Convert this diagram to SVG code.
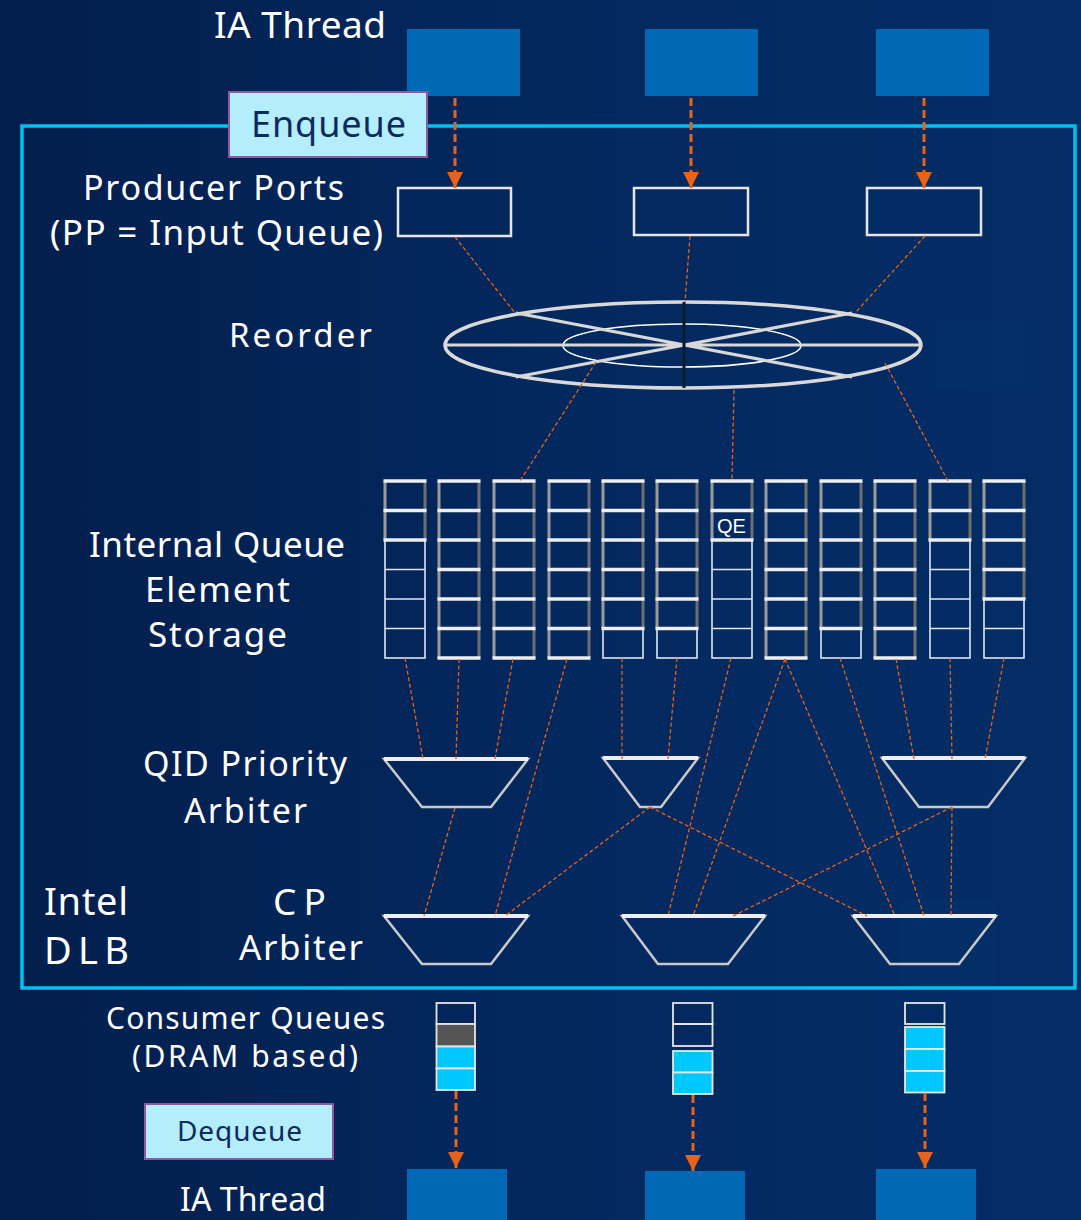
<svg xmlns="http://www.w3.org/2000/svg" xmlns:xlink="http://www.w3.org/1999/xlink" width="1081" height="1220" viewBox="0 0 1081 1220">
  <defs>
    <linearGradient id="bg" x1="0" y1="0" x2="1" y2="0">
      <stop offset="0" stop-color="#021e4c"/>
      <stop offset="0.5" stop-color="#03285e"/>
      <stop offset="1" stop-color="#042d66"/>
    </linearGradient>
    <marker id="arr" viewBox="0 0 16 16" markerWidth="16" markerHeight="16" refX="16" refY="8" orient="auto" markerUnits="userSpaceOnUse">
      <path d="M0,0 L16,8 L0,16 Z" fill="#e8621a"/>
    </marker>
    <!-- queue column templates: n occupied slots (3D look) over empty slots -->
    <g id="q6">
      <line class="sl" x1="0" y1="0" x2="0" y2="177"/><line class="sr" x1="40" y1="0" x2="40" y2="177"/>
      <path class="rt" d="M-1.5,0H41.5M-1.5,29.5H41.5M-1.5,59H41.5M-1.5,88.5H41.5M-1.5,118H41.5M-1.5,147.5H41.5M-1.5,177H41.5"/>
    </g>
    <g id="q5">
      <rect class="em" x="0" y="147.5" width="40" height="29.5"/>
      <line class="sl" x1="0" y1="0" x2="0" y2="147.5"/><line class="sr" x1="40" y1="0" x2="40" y2="147.5"/>
      <path class="rt" d="M-1.5,0H41.5M-1.5,29.5H41.5M-1.5,59H41.5M-1.5,88.5H41.5M-1.5,118H41.5M-1.5,147.5H41.5"/>
    </g>
    <g id="q4">
      <rect class="em" x="0" y="118" width="40" height="59"/>
      <path class="em" d="M0,147.5H40"/>
      <line class="sl" x1="0" y1="0" x2="0" y2="118"/><line class="sr" x1="40" y1="0" x2="40" y2="118"/>
      <path class="rt" d="M-1.5,0H41.5M-1.5,29.5H41.5M-1.5,59H41.5M-1.5,88.5H41.5M-1.5,118H41.5"/>
    </g>
    <g id="q2">
      <rect class="em" x="0" y="59" width="40" height="118"/>
      <path class="em" d="M0,88.5H40M0,118H40M0,147.5H40"/>
      <line class="sl" x1="0" y1="0" x2="0" y2="59"/><line class="sr" x1="40" y1="0" x2="40" y2="59"/>
      <path class="rt" d="M-1.5,0H41.5M-1.5,29.5H41.5M-1.5,59H41.5"/>
    </g>
  </defs>
  <style>
    .lbl { font-family: "Noto Sans", "DejaVu Sans", sans-serif; fill: #ffffff; text-anchor: middle; }
    .tag { font-family: "Noto Sans", "DejaVu Sans", sans-serif; fill: #0d2a5e; text-anchor: middle; }
    .thread { fill: #0068b5; }
    .tagbox { fill: #b4edfc; stroke: #8c5aa5; stroke-width: 2; }
    .pp { fill: none; stroke: #e6e6e6; stroke-width: 2.5; }
    .sl { stroke: #9a9a9a; stroke-width: 3; }
    .sr { stroke: #6e6e6e; stroke-width: 3; }
    .rt { stroke: #eeeeee; stroke-width: 3.5; fill: none; }
    .em { fill: none; stroke: #dfe6f2; stroke-width: 1.6; }
    .arb { fill: none; stroke: #c9c9c9; stroke-width: 2.5; stroke-linejoin: miter; }
    .arbtop { stroke: #eeeeee; stroke-width: 4; }
    .wire { fill: none; stroke: #e8621a; stroke-width: 1.3; stroke-dasharray: 4 2.5; }
    .feed { fill: none; stroke: #e8621a; stroke-width: 3; stroke-dasharray: 8 4; marker-end: url(#arr); }
    .cell { stroke: #e6e6e6; stroke-width: 1.8; }
  </style>

  <!-- background -->
  <rect x="0" y="0" width="1081" height="1220" fill="url(#bg)"/>
  <rect x="935" y="320" width="95" height="70" fill="#063470" opacity="0.3"/>
  <rect x="900" y="900" width="95" height="90" fill="#06346e" opacity="0.3"/>

  <!-- Intel DLB frame -->
  <rect id="dlb-frame" x="22" y="126" width="1053" height="862" fill="none" stroke="#00c0f2" stroke-width="3.5"/>

  <!-- labels -->
  <g id="labels">
    <text class="lbl" x="300" y="38" font-size="37" textLength="172" lengthAdjust="spacing">IA Thread</text>
    <text class="lbl" x="213.5" y="200" font-size="34" textLength="261" lengthAdjust="spacing">Producer Ports</text>
    <text class="lbl" x="216.5" y="245" font-size="35" textLength="333" lengthAdjust="spacing">(PP = Input Queue)</text>
    <text class="lbl" x="300.5" y="347" font-size="33" textLength="143" lengthAdjust="spacing">Reorder</text>
    <text class="lbl" x="217" y="557" font-size="35" textLength="256" lengthAdjust="spacing">Internal Queue</text>
    <text class="lbl" x="217.5" y="602" font-size="35" textLength="145" lengthAdjust="spacing">Element</text>
    <text class="lbl" x="217.5" y="647" font-size="35" textLength="139" lengthAdjust="spacing">Storage</text>
    <text class="lbl" x="245" y="776" font-size="34" textLength="204" lengthAdjust="spacing">QID Priority</text>
    <text class="lbl" x="245.5" y="823" font-size="34" textLength="123" lengthAdjust="spacing">Arbiter</text>
    <text class="lbl" x="299.5" y="915" font-size="37" textLength="53" lengthAdjust="spacing">CP</text>
    <text class="lbl" x="301" y="960" font-size="35" textLength="124" lengthAdjust="spacing">Arbiter</text>
    <text class="lbl" x="44" y="915" font-size="38" textLength="84" lengthAdjust="spacing" style="text-anchor:start">Intel</text>
    <text class="lbl" x="44" y="964" font-size="38" textLength="85" lengthAdjust="spacing" style="text-anchor:start">DLB</text>
    <text class="lbl" x="245.5" y="1029" font-size="30" textLength="279" lengthAdjust="spacing">Consumer Queues</text>
    <text class="lbl" x="245" y="1067" font-size="30" textLength="226" lengthAdjust="spacing">(DRAM based)</text>
    <text class="lbl" x="253" y="1211" font-size="32" textLength="146" lengthAdjust="spacing">IA Thread</text>
  </g>

  <!-- producer threads -->
  <g id="thread-in-1"><rect class="thread" x="407" y="29" width="113" height="67"/></g>
  <g id="thread-in-2"><rect class="thread" x="645" y="29" width="113" height="67"/></g>
  <g id="thread-in-3"><rect class="thread" x="876" y="29" width="113" height="67"/></g>

  <!-- enqueue tag -->
  <g id="enqueue">
    <rect class="tagbox" x="229" y="92" width="198" height="65"/>
    <text class="tag" x="328.5" y="137" font-size="36" textLength="155" lengthAdjust="spacing">Enqueue</text>
  </g>

  <!-- producer ports -->
  <g id="pp-1"><rect class="pp" x="398" y="188" width="113" height="48"/></g>
  <g id="pp-2"><rect class="pp" x="634" y="188" width="114" height="47"/></g>
  <g id="pp-3"><rect class="pp" x="867" y="188" width="114" height="47"/></g>

  <!-- reorder wheel -->
  <g id="reorder">
    <ellipse cx="683" cy="345" rx="238" ry="43" fill="none" stroke="#d9d9d9" stroke-width="3.5"/>
    <ellipse cx="682" cy="345.5" rx="119" ry="21.5" fill="none" stroke="#ffffff" stroke-width="1.6"/>
    <path d="M446,345H920M516,313L852,377M852,313L516,377" stroke="#d8d8d8" stroke-width="3.2" fill="none"/>
    <line x1="684" y1="302" x2="684" y2="388" stroke="#0b1a2c" stroke-width="3"/>
  </g>

  <!-- internal queue element storage -->
  <g id="col-1"><use xlink:href="#q2" x="385" y="481"/></g>
  <g id="col-2"><use xlink:href="#q6" x="439" y="481"/></g>
  <g id="col-3"><use xlink:href="#q6" x="494" y="481"/></g>
  <g id="col-4"><use xlink:href="#q6" x="549" y="481"/></g>
  <g id="col-5"><use xlink:href="#q5" x="603" y="481"/></g>
  <g id="col-6"><use xlink:href="#q5" x="657" y="481"/></g>
  <g id="col-7"><use xlink:href="#q2" x="712" y="481"/>
    <text x="731.5" y="533" font-family="Liberation Sans, Arial, sans-serif" font-size="20" fill="#ffffff" text-anchor="middle">QE</text>
  </g>
  <g id="col-8"><use xlink:href="#q6" x="766" y="481"/></g>
  <g id="col-9"><use xlink:href="#q5" x="821" y="481"/></g>
  <g id="col-10"><use xlink:href="#q6" x="875" y="481"/></g>
  <g id="col-11"><use xlink:href="#q2" x="930" y="481"/></g>
  <g id="col-12"><use xlink:href="#q4" x="984" y="481"/></g>

  <!-- QID priority arbiters -->
  <g id="qid-arb-1"><polygon class="arb" points="384,759 528,759 491,807 422,807"/><line class="arbtop" x1="384" y1="759" x2="528" y2="759"/></g>
  <g id="qid-arb-2"><polygon class="arb" points="603,758 698,758 661,807 640,807"/><line class="arbtop" x1="603" y1="758" x2="698" y2="758"/></g>
  <g id="qid-arb-3"><polygon class="arb" points="882,758 1025,758 988,807 919,807"/><line class="arbtop" x1="882" y1="758" x2="1025" y2="758"/></g>

  <!-- CP arbiters -->
  <g id="cp-arb-1"><polygon class="arb" points="384,916 528,916 491,964 422,964"/><line class="arbtop" x1="384" y1="916" x2="528" y2="916"/></g>
  <g id="cp-arb-2"><polygon class="arb" points="622,916 765,916 728,964 658,964"/><line class="arbtop" x1="622" y1="916" x2="765" y2="916"/></g>
  <g id="cp-arb-3"><polygon class="arb" points="853,916 996,916 959,964 890,964"/><line class="arbtop" x1="853" y1="916" x2="996" y2="916"/></g>

  <!-- consumer queues -->
  <g id="cq-1">
    <rect x="436.5" y="1003" width="38.5" height="21" fill="none" class="cell"/>
    <rect x="436.5" y="1024" width="38.5" height="22.5" fill="#555555" class="cell"/>
    <rect x="436.5" y="1046.5" width="38.5" height="22" fill="#00c7fd" class="cell"/>
    <rect x="436.5" y="1068.5" width="38.5" height="21.5" fill="#00c7fd" class="cell"/>
  </g>
  <g id="cq-2">
    <rect x="673" y="1003" width="39.5" height="21" fill="none" class="cell"/>
    <rect x="673" y="1024" width="39.5" height="22" fill="none" class="cell"/>
    <rect x="673" y="1051" width="39.5" height="21.5" fill="#00c7fd" class="cell"/>
    <rect x="673" y="1072.5" width="39.5" height="21.5" fill="#00c7fd" class="cell"/>
  </g>
  <g id="cq-3">
    <rect x="905" y="1003" width="39.5" height="21" fill="none" class="cell"/>
    <rect x="905" y="1027" width="39.5" height="22" fill="#00c7fd" class="cell"/>
    <rect x="905" y="1049" width="39.5" height="22" fill="#00c7fd" class="cell"/>
    <rect x="905" y="1071" width="39.5" height="21.5" fill="#00c7fd" class="cell"/>
  </g>

  <!-- dequeue tag -->
  <g id="dequeue">
    <rect class="tagbox" x="145" y="1104" width="188" height="55"/>
    <text class="tag" x="239.5" y="1141" font-size="28" textLength="125" lengthAdjust="spacing">Dequeue</text>
  </g>

  <!-- consumer threads -->
  <g id="thread-out-1"><rect class="thread" x="407" y="1169" width="100" height="60"/></g>
  <g id="thread-out-2"><rect class="thread" x="645" y="1171" width="100" height="60"/></g>
  <g id="thread-out-3"><rect class="thread" x="876" y="1169" width="100" height="60"/></g>

  <!-- connectors -->
  <g id="connectors">
    <line class="feed" x1="455" y1="98" x2="455" y2="188"/>
    <line class="feed" x1="691" y1="98" x2="691" y2="188"/>
    <line class="feed" x1="924" y1="98" x2="924" y2="188"/>

    <line class="wire" x1="455" y1="237" x2="515" y2="313"/>
    <line class="wire" x1="690" y1="236" x2="685" y2="302"/>
    <line class="wire" x1="925" y1="236" x2="855" y2="313"/>

    <line class="wire" x1="596" y1="362" x2="520" y2="481"/>
    <line class="wire" x1="734" y1="390" x2="732" y2="481"/>
    <line class="wire" x1="885" y1="363" x2="948" y2="481"/>

    <line class="wire" x1="405" y1="658" x2="423" y2="759"/>
    <line class="wire" x1="459" y1="659" x2="456" y2="759"/>
    <line class="wire" x1="513" y1="659" x2="495" y2="759"/>
    <line class="wire" x1="567" y1="659" x2="495" y2="916"/>
    <line class="wire" x1="622" y1="658" x2="622" y2="759"/>
    <line class="wire" x1="677" y1="658" x2="668" y2="759"/>
    <line class="wire" x1="731" y1="658" x2="668" y2="916"/>
    <line class="wire" x1="785" y1="659" x2="693" y2="916"/>
    <line class="wire" x1="785" y1="659" x2="895" y2="916"/>
    <line class="wire" x1="840" y1="658" x2="924" y2="916"/>
    <line class="wire" x1="896" y1="659" x2="914" y2="759"/>
    <line class="wire" x1="950" y1="658" x2="952" y2="759"/>
    <line class="wire" x1="1004" y1="658" x2="985" y2="759"/>

    <line class="wire" x1="455" y1="808" x2="424" y2="916"/>
    <line class="wire" x1="650" y1="807" x2="505" y2="916"/>
    <line class="wire" x1="650" y1="807" x2="867" y2="916"/>
    <line class="wire" x1="952" y1="807" x2="733" y2="916"/>
    <line class="wire" x1="952" y1="807" x2="951" y2="916"/>

    <line class="feed" x1="456" y1="1091" x2="456" y2="1168"/>
    <line class="feed" x1="693" y1="1095" x2="693" y2="1171"/>
    <line class="feed" x1="925" y1="1093" x2="925" y2="1168"/>
  </g>
</svg>
